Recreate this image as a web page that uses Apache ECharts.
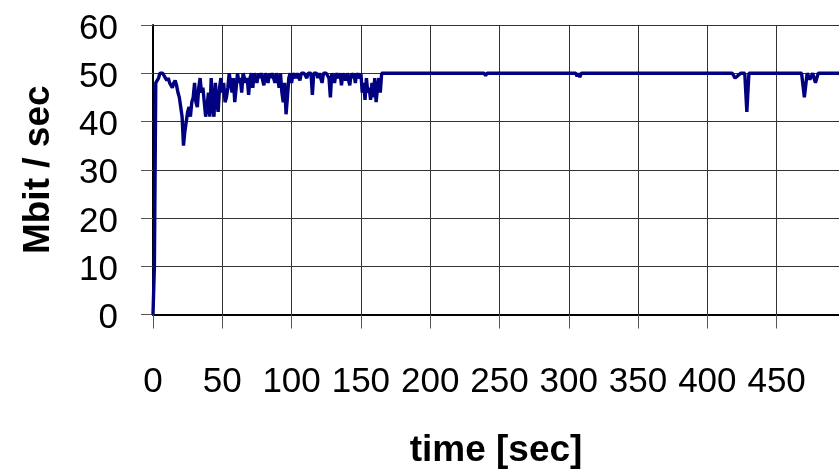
<!DOCTYPE html>
<html>
<head>
<meta charset="utf-8">
<script src="https://cdn.jsdelivr.net/npm/echarts@6/dist/echarts.min.js"></script>
<style>html,body{margin:0;padding:0;background:#fff}#c{width:839px;height:469px}</style>
</head>
<body>
<div id="c"></div>
<script>
// time [sec]
const times = [
  0,1,2,3,4,5,6,7,8,9,
  10,11,12,13,14,15,16,17,18,19,
  20,21,22,23,24,25,26,27,28,29,
  30,31,32,33,34,35,36,37,38,39,
  40,41,42,43,44,45,46,47,48,49,
  50,51,52,53,54,55,56,57,58,59,
  60,61,62,63,64,65,66,67,68,69,
  70,71,72,73,74,75,76,77,78,79,
  80,81,82,83,84,85,86,87,88,89,
  90,91,92,93,94,95,96,97,98,99,
  100,101,102,103,104,105,106,107,108,109,
  110,111,112,113,114,115,116,117,118,119,
  120,121,122,123,124,125,126,127,128,129,
  130,131,132,133,134,135,136,137,138,139,
  140,141,142,143,144,145,146,147,148,149,
  150,151,152,153,154,155,156,157,158,159,
  160,161,162,163,164,165,166,167,168,169,
  180,239,240,241,305,306,307,308,309,
  418,420,422,424,427,428.5,430,
  468,470,472,474,476,478,480,495
];
// throughput [Mbit / sec]
const mbit = [
  0,10,48,48,49,50,50,50,50,49,
  48.5,49,48,47.5,47,48,48.5,47.5,46,45,
  43,41,35,38,40,42,43,41,44,45,
  48,44,43,47,49,46,47,44,41,43,
  46,41,49,43,41,48,44,42,47,49,
  46,48,44,45,47,50,48,46,49,44,
  47,50,48,49,46,50,50,48,49,45.5,
  49,50,47,50,50,48,50,49,50,50,
  47.5,50,50,48,50,49,50,50,48,50,
  49,47,50,46,44,48,41.5,45,49,50,
  48,50,50,49,50,50,48.5,50,50,50,
  50,49,50,50,50,45.5,50,50,50,49,
  50,50,48,50,50,50,50,49,45,50,
  50,48,50,50,49,50,47.5,50,50,48.5,
  50,50,47.5,50,49,50,48,50,50,49,
  50,46,48,44.5,49,46,47,44.5,48,45,
  49,44,47,49,46,50,50,50,50,50,
  50,50,49.5,50,50,49.4,50,49.2,50,
  50,49,49.5,50,50,42,50,
  50,45,50,48.7,50,48,50,50
];
const yTicks = [0,10,20,30,40,50,60];
const xTickLabels = ['0','50','100','150','200','250','300','350','400','450'];

const data = times.map((t, i) => [t, mbit[i]]);
const chart = echarts.init(document.getElementById('c'), null, {renderer: 'canvas'});
const font = "'Liberation Sans', Arial, sans-serif";
chart.setOption({
  animation: false,
  backgroundColor: '#fff',
  grid: {left: 153, right: 0, top: 25, bottom: 154.5, containLabel: false, outerBoundsMode: 'none'},
  xAxis: [{
    type: 'value', min: 0, max: 495, interval: 50,
    name: 'time [sec]', nameLocation: 'middle', nameGap: 118,
    nameTextStyle: {fontFamily: font, fontSize: 37, fontWeight: 'bold', color: '#000'},
    axisLine: {show: true, onZero: false, lineStyle: {color: '#000', width: 2}},
    axisTick: {show: true, length: 14, lineStyle: {color: '#555', width: 1}},
    axisLabel: {
      margin: 50, fontFamily: font, fontSize: 35, color: '#000',
      showMaxLabel: false,
      formatter: function (v) { const i = Math.round(v / 50); return (v % 50 === 0 && i < xTickLabels.length) ? xTickLabels[i] : ''; }
    },
    splitLine: {show: true, lineStyle: {color: '#333', width: 1}}
  }, {
    type: 'value', min: 0, max: 495, position: 'top',
    axisLine: {show: true, lineStyle: {color: '#000', width: 2}},
    axisTick: {show: false}, axisLabel: {show: false}, splitLine: {show: false}
  }],
  yAxis: {
    type: 'value', min: 0, max: 60, interval: 10,
    name: 'Mbit / sec', nameLocation: 'middle', nameGap: 96, nameRotate: 90,
    nameTextStyle: {fontFamily: font, fontSize: 37, fontWeight: 'bold', color: '#000'},
    axisLine: {show: true, lineStyle: {color: '#000', width: 2}},
    axisTick: {show: true, length: 12, lineStyle: {color: '#555', width: 1}},
    axisLabel: {
      margin: 35, fontFamily: font, fontSize: 35, color: '#000',
      verticalAlign: 'top', lineHeight: 8,
      formatter: function (v) { return yTicks.indexOf(v) >= 0 ? String(v) : ''; }
    },
    splitLine: {show: true, lineStyle: {color: '#333', width: 1}}
  },
  series: [{
    type: 'line', data: data, showSymbol: false, symbol: 'none',
    lineStyle: {color: '#000080', width: 3.4}, z: 5
  }]
});
</script>
</body>
</html>
